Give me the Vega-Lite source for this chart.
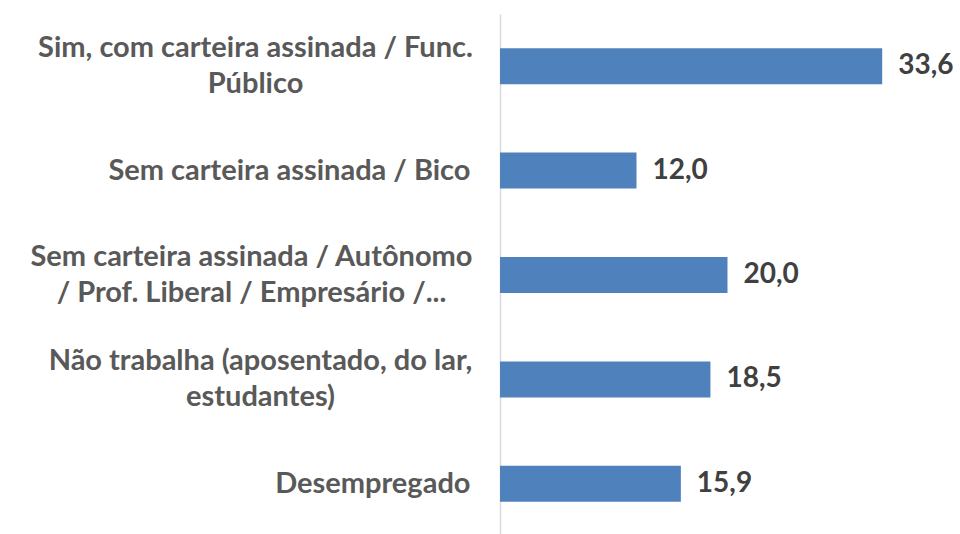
{
  "$schema": "https://vega.github.io/schema/vega-lite/v6.json",
  "width": 455,
  "height": 522,
  "autosize": {"type": "none"},
  "padding": {"left": 500, "top": 14, "right": 5, "bottom": 0},
  "background": "white",
  "config": {
    "view": {"stroke": null},
    "locale": {"number": {"decimal": ",", "thousands": ".", "grouping": [3], "currency": ["R$", ""]}}
  },
  "data": {
    "values": [
      {"categoria": "Sim, com carteira assinada / Func.|Público", "valor": 33.6},
      {"categoria": "Sem carteira assinada / Bico", "valor": 12.0},
      {"categoria": "Sem carteira assinada / Autônomo|/ Prof. Liberal / Empresário /...", "valor": 20.0},
      {"categoria": "Não trabalha (aposentado, do lar,|estudantes)", "valor": 18.5},
      {"categoria": "Desempregado", "valor": 15.9}
    ]
  },
  "encoding": {
    "y": {
      "field": "categoria",
      "type": "nominal",
      "sort": null,
      "scale": {"paddingInner": 0.655, "paddingOuter": 0.3275},
      "axis": {
        "title": null,
        "labelExpr": "split(datum.label, '|')",
        "labelFont": "Lato",
        "labelFontSize": 29,
        "labelFontWeight": "bold",
        "labelColor": "#595959",
        "labelLineHeight": 36,
        "labelAlign": {"condition": {"test": "indexof(datum.value, '|') >= 0", "value": "center"}, "value": "right"},
        "labelPadding": {
          "condition": [
            {"test": "indexof(datum.value, 'Func.') >= 0", "value": 245},
            {"test": "indexof(datum.value, 'Autônomo') >= 0", "value": 249},
            {"test": "indexof(datum.value, 'aposentado') >= 0", "value": 240}
          ],
          "value": 30
        },
        "labelOffset": {"condition": {"test": "indexof(datum.value, '|') >= 0", "value": -18}, "value": 0},
        "labelLimit": 600,
        "ticks": false,
        "domainColor": "#D9D9D9",
        "domainWidth": 1.5,
        "grid": false
      }
    },
    "x": {
      "field": "valor",
      "type": "quantitative",
      "scale": {"domain": [0, 40]},
      "axis": null
    }
  },
  "layer": [
    {"mark": {"type": "bar", "color": "#4F81BD"}},
    {
      "mark": {"type": "text", "align": "left", "dx": 16, "font": "Lato", "fontSize": 28, "fontWeight": "bold", "color": "#404040", "baseline": "middle"},
      "encoding": {"text": {"field": "valor", "type": "quantitative", "format": ".1f"}}
    }
  ]
}
